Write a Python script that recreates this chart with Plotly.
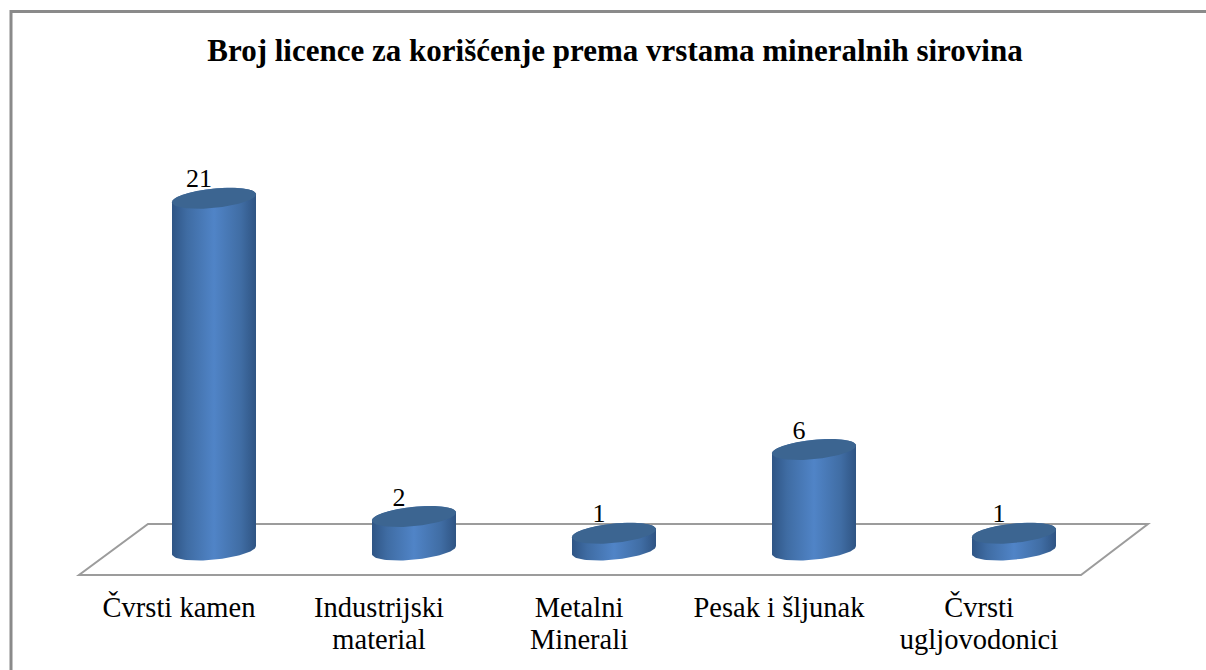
import math
import plotly.graph_objects as go

title = "Broj licence za korišćenje prema vrstama mineralnih sirovina"
categories = ["Čvrsti kamen", "Industrijski<br>material", "Metalni<br>Minerali", "Pesak i šljunak", "Čvrsti<br>ugljovodonici"]
values = [21, 2, 1, 6, 1]

W, H = 1206, 670
PLOT_B = 591          # bottom of plot area in px
X0, XU = 214, 200     # px of first category, px per category
Y0, YU = 550, 16.75   # px of value 0, px per unit
HW = 42 / XU          # cylinder half width, in category units
TILT = 4 / YU         # ellipse tilt, in value units
SEMI = 9.7 / YU       # ellipse semi minor, in value units
LABEL_DX = -35 / XU
VALUE_DX = -15 / XU
VALUE_DY = 17.5 / YU

SERIF = "Liberation Serif"
GRAD = [[0, "#2f5585"], [0.18, "#3f6ca3"], [0.5, "#5084c7"], [0.82, "#406da4"], [1, "#2f5483"]]
TOP = "#3c6591"

def ell(cx, cy, t):
    return cx + HW * math.cos(t), cy + TILT * math.cos(t) - SEMI * math.sin(t)

N = 48
fig = go.Figure()
for i, v in enumerate(values):
    # side wall: lower half of base ellipse, then upper half of the top ellipse
    pts = [ell(i, 0, math.pi * k / N) for k in range(N + 1)]
    pts += [ell(i, v, math.pi + math.pi * k / N) for k in range(N + 1)]
    pts.append(pts[0])
    fig.add_trace(go.Scatter(
        x=[p[0] for p in pts], y=[p[1] for p in pts], mode="lines", fill="toself",
        line=dict(width=0),
        fillgradient=dict(type="horizontal", colorscale=GRAD, start=i - HW, stop=i + HW),
        hoverinfo="skip", showlegend=False))
    top = [ell(i, v, 2 * math.pi * k / (2 * N)) for k in range(2 * N + 1)]
    fig.add_trace(go.Scatter(
        x=[p[0] for p in top], y=[p[1] for p in top], mode="lines", fill="toself",
        line=dict(width=0), fillcolor=TOP, hoverinfo="skip", showlegend=False))

fig.add_trace(go.Scatter(
    x=[i + VALUE_DX for i in range(len(values))],
    y=[v + VALUE_DY for v in values],
    text=[str(v) for v in values], mode="text", textposition="middle center",
    textfont=dict(family=SERIF, size=26, color="black"),
    hoverinfo="skip", showlegend=False))

def px(p):
    return p / W
def py(p):
    return (PLOT_B - p) / PLOT_B

floor = [(79, 575), (1081, 575), (1148, 524), (148, 524)]
path = "M " + " L ".join(f"{px(a):.5f},{py(b):.5f}" for a, b in floor) + " Z"
shapes = [
    dict(type="path", xref="paper", yref="paper", path=path, layer="below",
         line=dict(color="#9c9c9c", width=2), fillcolor="white"),
    dict(type="line", xref="paper", yref="paper", x0=px(11), x1=px(W), y0=py(11.5), y1=py(11.5),
         layer="below", line=dict(color="#8a8a8a", width=3)),
    dict(type="line", xref="paper", yref="paper", x0=px(11), x1=px(11), y0=py(10), y1=py(H),
         layer="below", line=dict(color="#8a8a8a", width=3)),
]

def sized(label):
    return "<br>".join(f'<span style="font-size:28.5px">{part}</span>' for part in label.split("<br>"))

fig.update_layout(
    width=W, height=H,
    margin=dict(l=0, r=0, t=0, b=H - PLOT_B),
    paper_bgcolor="white", plot_bgcolor="white",
    title=dict(text=f"<b>{title}</b>", x=615 / W, xanchor="center", xref="paper",
               y=1 - 50 / H, yanchor="middle", yref="container",
               font=dict(family=SERIF, size=31, color="black")),
    shapes=shapes,
    xaxis=dict(range=[-X0 / XU, (W - X0) / XU], showgrid=False, zeroline=False, showline=False,
               tickmode="array", tickvals=[i + LABEL_DX for i in range(len(categories))],
               ticktext=[sized(c) for c in categories], ticks="", fixedrange=True,
               tickfont=dict(family=SERIF, size=24.6, color="black"), tickangle=0),
    yaxis=dict(range=[(Y0 - PLOT_B) / YU, Y0 / YU], visible=False, fixedrange=True),
)
fig.write_html("out.html", post_script="document.body.style.margin='0';",
               config=dict(displayModeBar=False))
